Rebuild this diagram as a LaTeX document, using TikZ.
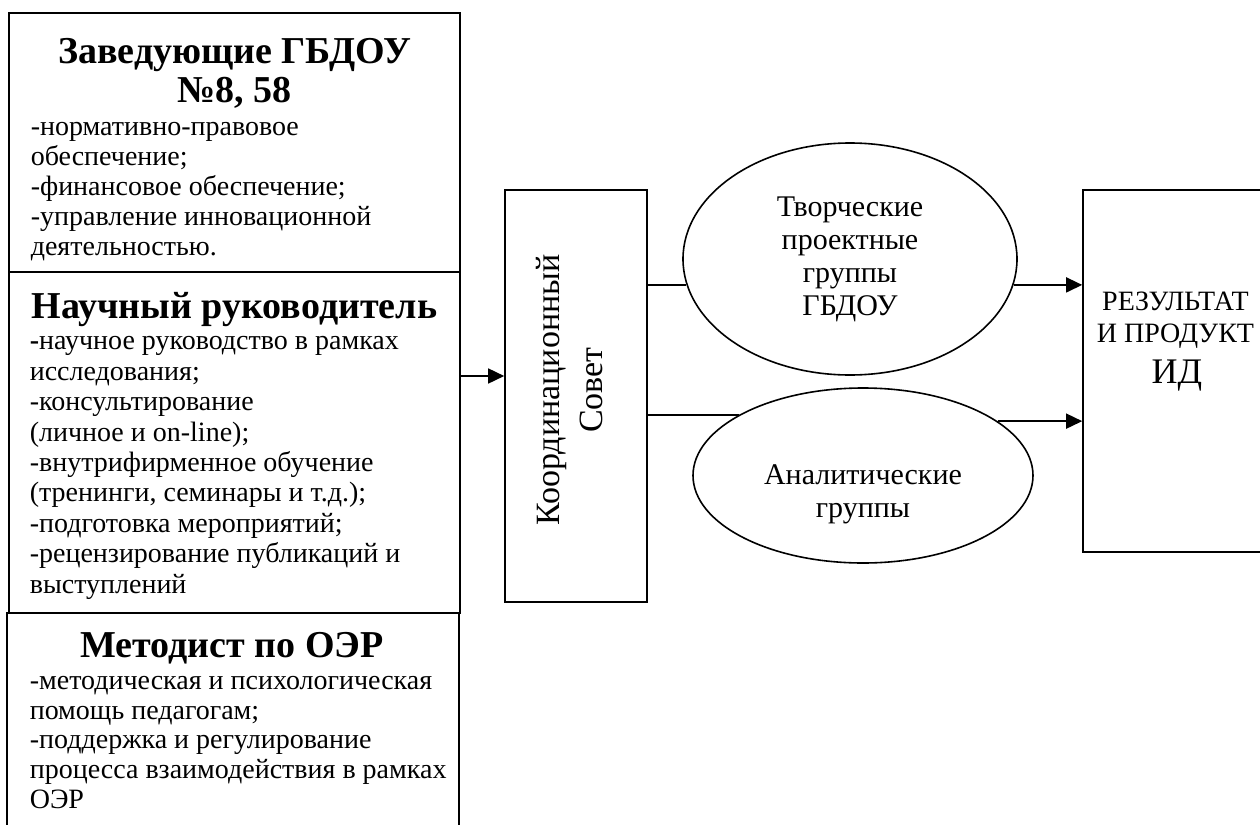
\documentclass[tikz,border=0pt]{standalone}
\usepackage{fontspec}
\setmainfont{Liberation Serif}
\usetikzlibrary{shapes.geometric,arrows.meta}

\begin{document}
\begin{tikzpicture}[x=0.5pt,y=-0.5pt,line width=0.8pt,
  box/.style={draw,rectangle,inner sep=0pt},
  oval/.style={draw,ellipse,inner sep=0pt},
  arr/.style={-{Triangle[length=8pt,width=7.5pt]}},
  ttl/.style={font=\fontsize{19}{19.5}\selectfont\bfseries,align=center,anchor=base,inner sep=0pt},
  txt/.style={font=\fontsize{14}{15}\selectfont,align=left,anchor=base west,inner sep=0pt}]
\useasboundingbox (0,0) rectangle (1260,825);
% левая колонка (base = последняя строка)
   \node[box,minimum width=225.5pt,minimum height=129.5pt] (zav) at (234.5,142.5) {};
   \node[box,minimum width=225.5pt,minimum height=170.5pt] (nauch) at (234.5,442.5) {};
   \node[box,minimum width=226pt,minimum height=116pt] (metod) at (233,729) {};
   \node[ttl] (zavT) at (234.5,102) {Заведующие ГБДОУ\\№8, 58};
   \node[txt] (zavB) at (30,255) {-нормативно-правовое\\обеспечение;\\-финансовое обеспечение;\\-управление инновационной\\деятельностью.};
   \node[ttl] (nauchT) at (234.5,318) {Научный руководитель};
   \node[txt,font=\fontsize{14}{15.2}\selectfont] (nauchB) at (29,593) {\textbf{-}научное руководство в рамках\\исследования;\\-консультирование\\(личное и on-line);\\-внутрифирменное обучение\\(тренинги, семинары и т.д.);\\-подготовка мероприятий;\\-рецензирование публикаций и\\выступлений};
   \node[ttl] (metodT) at (232,657) {Методист по ОЭР};
   \node[txt,font=\fontsize{14}{14.8}\selectfont] (metodB) at (29,808) {-методическая и психологическая\\помощь педагогам;\\-поддержка и регулирование\\процесса взаимодействия в рамках\\ОЭР};
% совет и группы
   \node[box,minimum width=71pt,minimum height=206pt] (koord) at (576,396) {};
   \node[rotate=90,align=center,inner sep=0pt,font=\fontsize{17}{21.5}\selectfont] (koordT) at (570,390) {Координационный\\Совет};
   \node[oval,minimum width=167pt,minimum height=116pt,align=center,font=\fontsize{15}{16.5}\selectfont] (tvor) at (850,259) {Творческие\\проектные\\группы\\ГБДОУ};
   \node[oval,minimum width=170pt,minimum height=87.5pt] (anal) at (863,475.5) {};
   \node[align=center,inner sep=0pt,font=\fontsize{15}{16.5}\selectfont] (analT) at (863,494) {Аналитические\\группы};
% результат
   \node[box,minimum width=92pt,minimum height=181pt] (rez) at (1175,371) {};
   \node[align=center,anchor=base,inner sep=0pt,font=\fontsize{14}{16}\selectfont] (rezT) at (1175.5,342) {РЕЗУЛЬТАТ\\И ПРОДУКТ};
   \node[anchor=base,inner sep=0pt,font=\fontsize{18}{21}\selectfont] (rezID) at (1177,383) {ИД};
% связи
   \draw[arr] (nauch.east |- 0,376) -- (koord.west |- 0,376);
   \draw (koord.east |- tvor.189) -- (tvor.189);
   \draw (koord.east |- anal.154) -- (anal.154);
   \draw[arr] (tvor.351) -- (rez.west |- tvor.351);
   \draw[arr] (anal.22) -- (rez.west |- anal.22);
\end{tikzpicture}
\end{document}
